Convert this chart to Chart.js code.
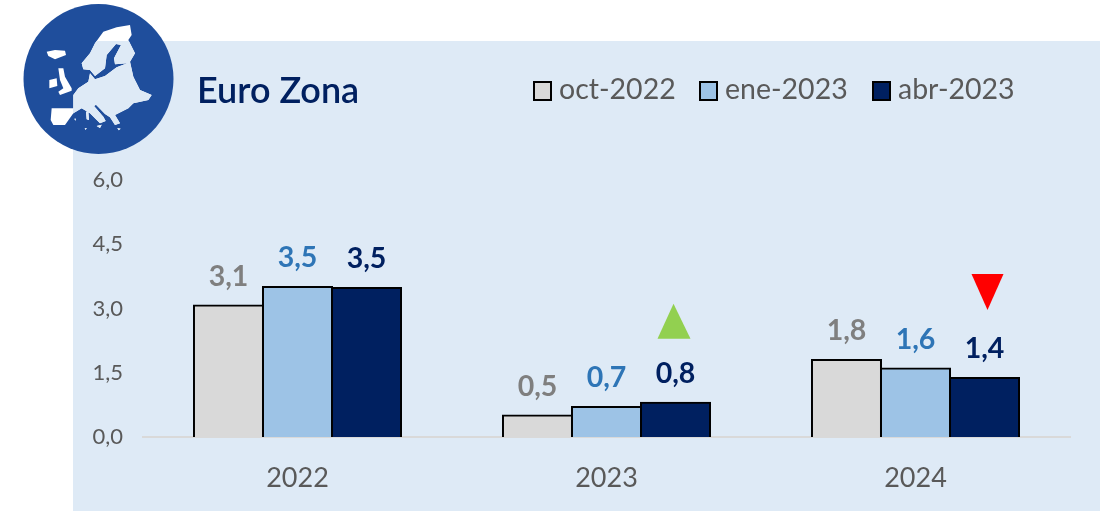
<!DOCTYPE html>
<html><head><meta charset="utf-8">
<style>html,body{margin:0;padding:0;background:#fff}#w{position:relative;width:1100px;height:511px}</style>
<script src="https://cdn.jsdelivr.net/npm/chart.js@4"></script></head>
<body><div id="w"><canvas id="c" width="1100" height="511"></canvas></div>
<script>
const categories = ['2022','2023','2024'];
const seriesNames = ['oct-2022','ene-2023','abr-2023'];
const oct2022 = [3.07,0.5,1.8];
const ene2023 = [3.5,0.7,1.6];
const abr2023 = [3.48,0.8,1.38];
const yTicks = [0,1.5,3,4.5,6];
const revisions = [null,'up','down'];
const chartTitle = 'Euro Zona';
const FONT = 'Lato, "Open Sans", sans-serif';
const labelColors = ['#7F7F7F','#2E75B6','#002060'];
const legendBoxX = [533,699,872];

const map = [
 [[20,95],[45,90],[75,92],[78,105],[45,118],[25,108]],
 [[55,145],[70,145],[75,170],[95,205],[95,212],[60,225],[55,215],[70,205],[60,180]],
 [[28,180],[50,175],[52,198],[28,205]],
 [[125,130],[150,100],[165,70],[190,35],[230,22],[270,15],[275,45],[265,60],[285,100],[270,125],[280,170],[300,210],[335,225],[325,240],[280,250],[265,265],[225,285],[240,310],[225,315],[210,292],[195,282],[168,254],[162,258],[190,290],[197,303],[180,310],[150,280],[125,265],[100,280],[75,315],[40,315],[32,300],[35,265],[85,265],[100,265],[100,225],[115,205],[145,185],[150,160],[165,178],[195,168],[230,142],[262,130],[225,133],[222,115],[243,75],[228,72],[200,105],[195,145],[165,168],[150,150],[130,148]],
 [[138,275],[145,275],[147,300],[140,298]],[[170,318],[185,314],[180,324]],[[103,296],[108,296],[106,302]],[[134,324],[140,324],[137,330]],[[232,324],[242,326],[236,331]]
];

function landPath(c){
 c.beginPath();
 map.forEach(p=>{p.forEach((q,i)=>{const x=40+q[0]/3,y=20+q[1]/3;i?c.lineTo(x,y):c.moveTo(x,y)});c.closePath();});
}

const decor = {
 id:'decor',
 beforeDraw(chart){
  const c=chart.ctx; c.save();
  c.fillStyle='#DEEAF6'; c.fillRect(73,41,1027,470);
  c.restore();
 },
 afterDraw(chart){
  const c=chart.ctx; c.save();
  // icon: land is see-through, so it shows white outside the panel and panel colour inside
  c.fillStyle='#1F4E9C'; c.beginPath(); c.arc(98.5,79,75,0,Math.PI*2); c.fill();
  c.fillStyle='#fff'; landPath(c); c.fill();
  c.save(); c.beginPath(); c.rect(73,41,1027,470); c.clip();
  c.fillStyle='#DEEAF6'; landPath(c); c.fill(); c.restore();
  // title
  c.fillStyle='#002060'; c.font='600 36px '+FONT; c.textAlign='left'; c.textBaseline='middle';
  c.fillText(chartTitle,197,91);
  // legend
  c.font='28.5px '+FONT;
  chart.data.datasets.forEach((ds,d)=>{
   c.fillStyle='#000'; c.fillRect(legendBoxX[d],81,19,20);
   c.fillStyle=ds.backgroundColor; c.fillRect(legendBoxX[d]+2,83,15,16);
   c.fillStyle='#595959'; c.fillText(ds.label,legendBoxX[d]+26,90);
  });
  // value labels
  c.font='bold 28.5px '+FONT; c.textAlign='center'; c.textBaseline='middle';
  chart.data.datasets.forEach((ds,d)=>{
   const meta=chart.getDatasetMeta(d);
   meta.data.forEach((b,i)=>{
    c.fillStyle=labelColors[d];
    c.fillText(ds.data[i].toFixed(1).replace('.',','),b.x,b.y-29);
   });
  });
  // revision arrows over the last series
  const m=chart.getDatasetMeta(2);
  revisions.forEach((r,i)=>{
   if(!r) return;
   const b=m.data[i];
   c.beginPath();
   if(r==='up'){c.fillStyle='#92D050';c.moveTo(b.x-2,b.y-99);c.lineTo(b.x-18,b.y-64);c.lineTo(b.x+15,b.y-64);}
   else {c.fillStyle='#FF0000';c.moveTo(b.x+3,b.y-68);c.lineTo(b.x-13,b.y-104);c.lineTo(b.x+19,b.y-104);}
   c.closePath();c.fill();
  });
  c.restore();
 }
};

new Chart(document.getElementById('c'),{
 type:'bar',
 data:{labels:categories,datasets:[
  {label:seriesNames[0],data:oct2022,backgroundColor:'#D9D9D9'},
  {label:seriesNames[1],data:ene2023,backgroundColor:'#9DC3E6'},
  {label:seriesNames[2],data:abr2023,backgroundColor:'#002060'}
 ].map(d=>Object.assign(d,{borderColor:'#000',borderWidth:2,inflateAmount:1,borderSkipped:'bottom',categoryPercentage:0.67,barPercentage:1}))},
 options:{
  responsive:false,animation:false,
  layout:{padding:{top:180,right:30,left:0,bottom:0}},
  plugins:{tooltip:{enabled:false},title:{display:false},legend:{display:false}},
  scales:{
   x:{grid:{display:false},border:{display:true,color:'#D9D9D9',width:2},
      ticks:{color:'#595959',font:{family:FONT,size:27},padding:17},
      afterFit(s){s.height=74;}},
   y:{min:0,max:6,grid:{display:false},border:{display:false},
      afterBuildTicks(s){s.ticks=yTicks.map(v=>({value:v}));},
      ticks:{color:'#595959',font:{family:FONT,size:22},padding:12,callback:v=>v.toFixed(1).replace('.',',')},
      afterFit(s){s.width=143;}}
  }
 },
 plugins:[decor]
});
</script></body></html>
